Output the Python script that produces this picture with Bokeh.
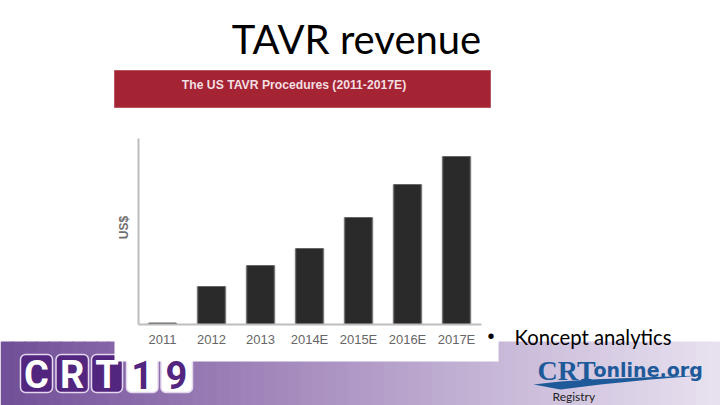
from bokeh.embed import file_html
from bokeh.resources import INLINE
from bokeh.plotting import figure
from bokeh.models import BoxAnnotation, Label, PolyAnnotation, Range1d, FixedTicker

years = ["2011", "2012", "2013", "2014E", "2015E", "2016E", "2017E"]
procedures = [1.5, 38, 59, 76, 107, 140, 168]

chart_title = "The US TAVR Procedures (2011-2017E)"
slide_title = "TAVR revenue"
bullet_text = "Koncept analytics"
registry_text = "Registry"
y_title = "US$"

W, H = 720, 405
positions = list(range(len(years)))

# the frame fills the canvas; one category = 49 px, one value unit = 1 px
x0_px, y0_px = 162, 324
p = figure(width=W, height=H, output_backend="svg", toolbar_location=None,
           x_range=Range1d(-x0_px / 49, (W - x0_px) / 49),
           y_range=Range1d(-(H - y0_px), y0_px),
           min_border_left=0, min_border_right=0, min_border_top=0, min_border_bottom=0)
p.outline_line_color = None
p.background_fill_color = "white"
p.border_fill_color = "white"
p.grid.visible = False


def box(l, t, r, b, color, line=None, radius=0, lw=1):
    a = BoxAnnotation(left=l, right=r, top=t, bottom=b,
                      left_units="canvas", right_units="canvas", top_units="canvas", bottom_units="canvas",
                      fill_color=color, fill_alpha=1, line_color=line, line_width=lw, line_alpha=1,
                      border_radius=radius, level="underlay", editable=False)
    p.add_layout(a)
    return a


def text(x, y, s, size, color="black", font="Lato", style="normal", align="left", level="annotation", angle=0):
    p.add_layout(Label(x=x, y=y, x_units="canvas", y_units="canvas", text=s, angle=angle, angle_units="deg",
                       text_font=font, text_font_size=f"{size}px", text_color=color, text_font_style=style,
                       text_align=align, text_baseline="middle", level=level))


stops = [(0, (112, 78, 152)), (200, (150, 120, 178)), (500, (200, 184, 216)), (720, (232, 226, 240))]
def mix(x):
    for (a, ca), (b, cb) in zip(stops, stops[1:]):
        if a <= x <= b:
            t = (x - a) / (b - a)
            return "#%02x%02x%02x" % tuple(round(u + (v - u) * t) for u, v in zip(ca, cb))
for x0 in range(0, 720, 12):
    box(x0, 341, x0 + 13, 406, mix(x0 + 6))

for (l, r, s, fill, fg) in [(20, 52, "C", "#52257f", "white"), (55.5, 88, "R", "#52257f", "white"),
                            (91, 122, "T", "#52257f", "white"), (126, 157.5, "1", "white", "#52257f"),
                            (160.5, 192, "9", "white", "#52257f")]:
    box(l, 354, r, 392, fill, line="#e4d8ee", radius=5, lw=1.5)
box(114, 125, 498, 361, "white")
for (x, s, fg) in [(36, "C", "white"), (71.7, "R", "white"), (106.5, "T", "white"),
                   (141.7, "1", "#52257f"), (176, "9", "#52257f")]:
    text(x, 374, s, 38, color=fg, font="Roboto", style="bold", align="center")
box(114, 70, 490, 107, "#a52433", line="#b9555f")

logo = "#1e5a9a"
text(537, 370, "CRT", 28, color=logo, font="Liberation Serif", style="bold")
text(593, 369, "online.org", 19, color=logo, font="DejaVu Sans", style="bold")
p.add_layout(PolyAnnotation(xs=[533, 560, 590, 640, 700, 650, 600, 560],
                            ys=[384, 381, 379, 377, 375, 379, 384, 389],
                            xs_units="canvas", ys_units="canvas", fill_color=logo, fill_alpha=1,
                            line_color=None, level="annotation", editable=False))

text(356, 38, slide_title, 40, align="center", font="Lato")
text(293.5, 84.5, chart_title, 12.2, color="#f3dfe1", font="Liberation Sans", style="bold", align="center")
text(487, 335, "•", 20, font="Liberation Sans")
text(514, 336, bullet_text, 20.3, font="Lato")
text(552, 396, registry_text, 12, color="#222222", font="Lato")
text(123, 227, y_title, 12, color="#707070", font="Liberation Sans", style="bold", align="center", angle=90)

p.vbar(x=positions, top=procedures, width=0.61, fill_color="#c4c4c4", line_color=None)
p.vbar(x=positions, top=procedures, width=0.56, fill_color="#2a2a2a", line_color="#666666", line_width=1)

ax = p.xaxis[0]
ax.fixed_location = 0
ax.bounds = (-0.5, 6.5)
ax.ticker = FixedTicker(ticks=positions)
ax.major_label_overrides = dict(zip(positions, years))
ax.axis_line_color = "#bdbdbd"
ax.axis_line_width = 2
ax.major_tick_line_color = None
ax.minor_tick_line_color = None
ax.major_label_text_color = "#666666"
ax.major_label_text_font = "Liberation Sans"
ax.major_label_text_font_size = "13px"
ax.major_label_standoff = 1

ay = p.yaxis[0]
ay.fixed_location = -0.5
ay.bounds = (0, 186)
ay.ticker = FixedTicker(ticks=[])
ay.axis_line_color = "#bdbdbd"
ay.axis_line_width = 2
ay.major_tick_line_color = None
ay.minor_tick_line_color = None

open("out.html", "w").write(file_html(p, INLINE))
